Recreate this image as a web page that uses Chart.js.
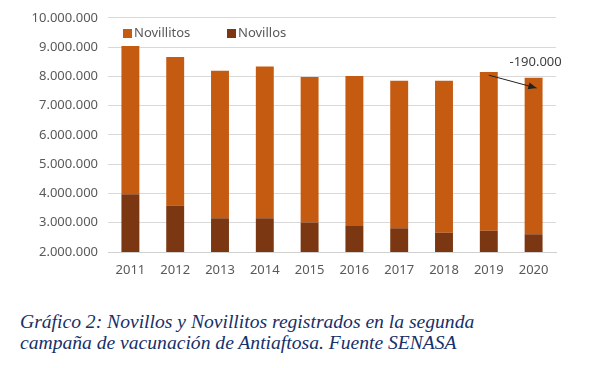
<!DOCTYPE html>
<html>
<head>
<meta charset="utf-8">
<script src="https://cdn.jsdelivr.net/npm/chart.js@4"></script>
<style>
  body { margin: 0; background: #fff; width: 592px; height: 368px; overflow: hidden; }
  #wrap { position: relative; width: 592px; height: 290px; }
  #caption {
    position: absolute; left: 20px; top: 311px; margin: 0;
    font-family: "Liberation Serif", serif; font-style: italic;
    font-size: 19.6px; line-height: 21px; color: #16306a;
  }
</style>
</head>
<body>
<div id="wrap"><canvas id="chart"></canvas></div>
<p id="caption">Gráfico 2: Novillos y Novillitos registrados en la segunda<br>campaña de vacunación de Antiaftosa. Fuente SENASA</p>
<script>
const years = ["2011", "2012", "2013", "2014", "2015", "2016", "2017", "2018", "2019", "2020"];
const novillos = [3970000, 3590000, 3150000, 3150000, 3010000, 2890000, 2810000, 2660000, 2730000, 2610000];
const novillitos = [5070000, 5070000, 5040000, 5190000, 4970000, 5120000, 5040000, 5190000, 5420000, 5340000];
const diffLabel = "-190.000";

function fmt(v) {
  return String(v).replace(/\B(?=(\d{3})+(?!\d))/g, ".");
}

// legend drawn inside the plot area, plus the arrow note between 2019 and 2020
const extras = {
  id: "extras",
  afterDraw(chart) {
    const ctx = chart.ctx;
    const area = chart.chartArea;
    const xs = chart.scales.x;
    const ys = chart.scales.y;
    ctx.save();
    ctx.font = "13px 'Noto Sans'";
    ctx.textBaseline = "middle";
    const items = [["Novillitos", "#C55A11", 15], ["Novillos", "#7B3712", 119]];
    items.forEach(([label, color, dx]) => {
      ctx.fillStyle = color;
      ctx.fillRect(area.left + dx, 29, 9, 9);
      ctx.fillStyle = "#595959";
      ctx.fillText(label, area.left + dx + 11, 33);
    });

    // arrow
    const x0 = xs.getPixelForValue(8);
    const y0 = ys.getPixelForValue(novillos[8] + novillitos[8] - 110000);
    const x1 = xs.getPixelForValue(9) + 3;
    const y1 = ys.getPixelForValue(7600000);
    ctx.strokeStyle = "#222";
    ctx.fillStyle = "#222";
    ctx.lineWidth = 1;
    ctx.beginPath();
    ctx.moveTo(x0, y0);
    ctx.lineTo(x1, y1);
    ctx.stroke();
    const a = Math.atan2(y1 - y0, x1 - x0);
    ctx.beginPath();
    ctx.moveTo(x1, y1);
    ctx.lineTo(x1 - 9 * Math.cos(a - 0.4), y1 - 9 * Math.sin(a - 0.4));
    ctx.lineTo(x1 - 9 * Math.cos(a + 0.4), y1 - 9 * Math.sin(a + 0.4));
    ctx.closePath();
    ctx.fill();

    ctx.fillStyle = "#404040";
    ctx.textAlign = "center";
    ctx.fillText(diffLabel, xs.getPixelForValue(9) + 2, 62);
    ctx.restore();
  }
};

new Chart(document.getElementById("chart"), {
  type: "bar",
  data: {
    labels: years,
    datasets: [
      { label: "Novillos", data: novillos, backgroundColor: "#7B3712" },
      { label: "Novillitos", data: novillitos, backgroundColor: "#C55A11" }
    ]
  },
  options: {
    responsive: true,
    maintainAspectRatio: false,
    animation: false,
    categoryPercentage: 1,
    barPercentage: 0.4,
    layout: { padding: { top: 17, right: 36, bottom: 0, left: 0 } },
    plugins: {
      legend: { display: false },
      tooltip: { enabled: false }
    },
    scales: {
      x: {
        stacked: true,
        grid: { display: false, drawTicks: false },
        border: { display: true, color: "#d0d0d0" },
        ticks: { color: "#595959", font: { family: "Noto Sans", size: 13 }, padding: 10 },
        afterFit(scale) { scale.height = 38; }
      },
      y: {
        stacked: true,
        min: 2000000,
        max: 10000000,
        grid: { color: "#d9d9d9", drawTicks: false },
        border: { display: false },
        ticks: {
          stepSize: 1000000,
          color: "#595959",
          font: { family: "Noto Sans", size: 13 },
          padding: 10,
          callback: (v) => fmt(v)
        },
        afterFit(scale) { scale.width = 108; }
      }
    }
  },
  plugins: [extras]
});
</script>
</body>
</html>
